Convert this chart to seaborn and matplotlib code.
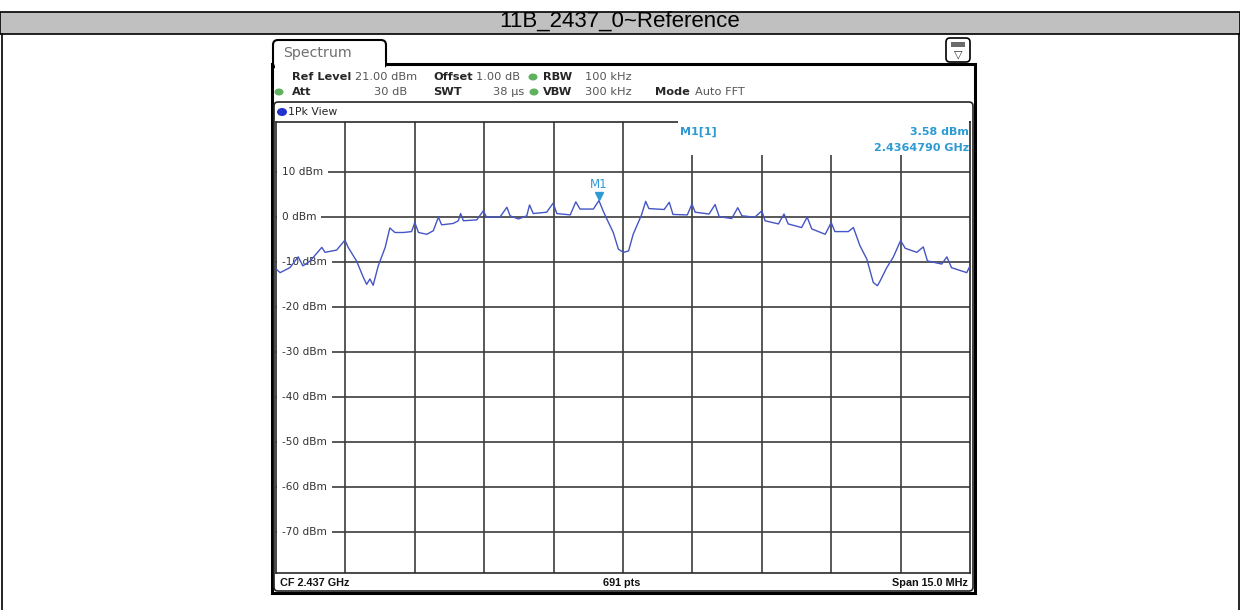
import matplotlib
matplotlib.use("Agg")
import matplotlib.pyplot as plt
import seaborn as sns
import pandas as pd
from matplotlib.patches import Rectangle, FancyBboxPatch, Ellipse
from matplotlib.lines import Line2D
from matplotlib.transforms import Affine2D, ScaledTranslation, blended_transform_factory

# trace (MHz, dBm)
freq_mhz = [2429.50, 2429.59, 2429.80, 2429.98, 2430.08, 2430.24, 2430.49, 2430.56, 2430.81, 2430.99,
            2431.06, 2431.24, 2431.39, 2431.46, 2431.53, 2431.60, 2431.71, 2431.86, 2431.96, 2432.07,
            2432.25, 2432.43, 2432.50, 2432.58, 2432.76, 2432.90, 2433.01, 2433.08, 2433.33, 2433.44,
            2433.49, 2433.55, 2433.84, 2433.98, 2434.05, 2434.34, 2434.49, 2434.56, 2434.74, 2434.92,
            2434.98, 2435.06, 2435.35, 2435.49, 2435.57, 2435.86, 2435.98, 2436.07, 2436.36, 2436.48,
            2436.57, 2436.65, 2436.79, 2436.90, 2437.01, 2437.12, 2437.22, 2437.40, 2437.49, 2437.56,
            2437.89, 2438.00, 2438.08, 2438.39, 2438.49, 2438.56, 2438.86, 2438.99, 2439.08, 2439.35,
            2439.48, 2439.57, 2439.85, 2440.00, 2440.07, 2440.36, 2440.48, 2440.57, 2440.86, 2440.98,
            2441.08, 2441.37, 2441.50, 2441.58, 2441.87, 2441.98, 2442.12, 2442.27, 2442.41, 2442.50,
            2442.56, 2442.70, 2442.84, 2443.00, 2443.10, 2443.35, 2443.49, 2443.58, 2443.89, 2444.00,
            2444.10, 2444.43, 2444.50]
level_dbm = [-11.6, -12.4, -11.3, -8.9, -10.9, -9.8, -6.8, -7.9, -7.4, -5.2,
             -6.8, -9.8, -13.5, -15.0, -13.8, -15.2, -10.9, -6.8, -2.5, -3.5,
             -3.5, -3.3, -1.3, -3.5, -3.9, -3.1, -0.1, -1.8, -1.5, -0.9,
             0.7, -0.9, -0.7, 1.3, -0.1, -0.1, 2.1, 0.2, -0.5, 0.2,
             2.6, 0.7, 1.0, 3.0, 0.7, 0.4, 3.3, 1.7, 1.7, 3.58,
             1.3, -0.5, -3.5, -7.2, -7.9, -7.6, -3.9, 0.4, 3.4, 1.8,
             1.6, 3.2, 0.5, 0.4, 2.8, 1.0, 0.6, 2.7, 0.0, -0.4,
             2.0, 0.2, -0.1, 1.3, -0.9, -1.6, 0.6, -1.6, -2.4, -0.1,
             -2.7, -3.9, -1.3, -3.3, -3.3, -2.4, -6.4, -9.4, -14.6, -15.3,
             -14.2, -11.3, -9.0, -5.3, -7.0, -7.9, -6.7, -9.8, -10.5, -8.9,
             -11.3, -12.4, -10.9]

marker_freq = 2436.479
marker_level = 3.58
center_mhz = 2437.0
span_mhz = 15.0
ref_level = 21.0
y_labels = [10, 0, -10, -20, -30, -40, -50, -60, -70]

W, H = 1240, 610
TRACE = "#4455c4"
CYAN = "#2d9ad4"
GRID = "#3c3c3c"
GREEN = "#5fb05f"

sns.set_style("white")
plt.rcParams["font.family"] = ["DejaVu Sans"]

fig = plt.figure(figsize=(W / 100, H / 100), dpi=100)
fig.patch.set_facecolor("white")
# pixel coords, y measured from the top
T = Affine2D().scale(1 / W, -1 / H).translate(0, 1) + fig.transFigure


def ftext(x, y, s, **kw):
    kw.setdefault("fontsize", 8.2)
    kw.setdefault("va", "center")
    return fig.text(x, y, s, transform=T, **kw)


def dot(x, y, c=GREEN, r=3.5):
    fig.add_artist(Ellipse((x, y), 2 * r + 2, 2 * r, transform=T, fc=c, ec="none", zorder=3))


# table header + borders
fig.add_artist(Rectangle((0, 12), W, 22, transform=T, fc="#c0c0c0", ec="black", lw=1.2, zorder=1))
ftext(620, 21.5, "11B_2437_0~Reference", ha="center", fontsize=16, family="Liberation Sans",
      color="black")
for xb in (1.5, 1238.5):
    fig.add_artist(Line2D([xb, xb], [34, 610], transform=T, color="black", lw=1.2))

# analyzer window
fig.add_artist(Rectangle((272, 64), 703, 529, transform=T, fc="white", ec="black", lw=2.2, zorder=-1))
fig.add_artist(FancyBboxPatch((273, 40), 113, 28, boxstyle="round,pad=0,rounding_size=5",
                              transform=T, fc="white", ec="black", lw=1.5, zorder=1))
fig.add_artist(Rectangle((274.5, 62), 110, 8, transform=T, fc="white", ec="none", zorder=1.5))
ftext(283, 53, "Spectrum", fontsize=10.2, color="#707070")

# small icon top right
fig.add_artist(FancyBboxPatch((946, 38), 24, 24, boxstyle="round,pad=0,rounding_size=4",
                              transform=T, fc="white", ec="black", lw=1.2, zorder=1))
fig.add_artist(Rectangle((951, 42), 14, 5, transform=T, fc="#6a6a6a", ec="none", zorder=2))
ftext(958, 54, "▽", ha="center", fontsize=8, color="#333333")

# setting rows
ftext(292, 77, "Ref Level", weight="bold")
ftext(355, 77, "21.00 dBm", color="#555555")
ftext(433, 77, "Offset", weight="bold")
ftext(476, 77, "1.00 dB", color="#555555")
dot(533, 77)
ftext(543, 77, "RBW", weight="bold")
ftext(585, 77, "100 kHz", color="#555555")

dot(279, 92)
ftext(292, 92, "Att", weight="bold")
ftext(407, 92, "30 dB", color="#555555", ha="right")
ftext(433, 92, "SWT", weight="bold")
ftext(493, 92, "38 µs", color="#555555")
dot(534, 92)
ftext(543, 92, "VBW", weight="bold")
ftext(585, 92, "300 kHz", color="#555555")
ftext(655, 92, "Mode", weight="bold")
ftext(695, 92, "Auto FFT", color="#555555")

# trace window frame
fig.add_artist(FancyBboxPatch((274, 102), 699, 489, boxstyle="round,pad=0,rounding_size=4",
                              transform=T, fc="none", ec="#222222", lw=1.2, zorder=2))
dot(282, 112, c="#2233cc", r=4)
ftext(288, 112, "1Pk View", fontsize=7.8)

# plot area
ax = fig.add_axes([276 / W, (H - 573) / H, 694 / W, 451 / H])
df = pd.DataFrame({"freq": freq_mhz, "level": level_dbm})
sns.lineplot(data=df, x="freq", y="level", ax=ax, color=TRACE, lw=1.0,
             estimator=None, sort=True, zorder=4)

lo = center_mhz - span_mhz / 2
hi = center_mhz + span_mhz / 2
ax.set_xlim(lo, hi)
ax.set_ylim(ref_level - 100, ref_level)
ax.set_xticks([lo + i * span_mhz / 10 for i in range(1, 10)])
ax.set_yticks(y_labels)
ax.grid(True, color=GRID, lw=1.2)
ax.set_axisbelow(True)
ax.tick_params(length=0, labelbottom=False, labelleft=False)
ax.set_xlabel("")
ax.set_ylabel("")
for s in ax.spines.values():
    s.set_color("#2a2a2a")
    s.set_linewidth(1.2)

# y labels drawn inside the grid
lab_tr = blended_transform_factory(ax.transAxes, ax.transData)
for v in y_labels:
    ax.text(0.0085, v, f"{v} dBm", transform=lab_tr, fontsize=7.6, color="#333333",
            va="center", ha="left", zorder=3,
            bbox=dict(fc="white", ec="none", pad=3.5))

# marker readout box (covers the grid and top edge under the readout)
box_db = 33 / 4.5
ax.add_patch(Rectangle((lo + span_mhz * 402 / 694, ref_level - box_db),
                       span_mhz * (694 - 402 - 1.5) / 694, box_db + 0.35,
                       fc="white", ec="none", zorder=2.6, clip_on=False))
ftext(680, 132, "M1[1]", color=CYAN, weight="bold", fontsize=8)
ftext(969, 132, f"{marker_level:.2f} dBm", color=CYAN, weight="bold", fontsize=8, ha="right")
ftext(969, 148, f"{marker_freq / 1000:.7f} GHz", color=CYAN, weight="bold", fontsize=8, ha="right")

tri_tr = ax.transData + ScaledTranslation(0, 3.5 / 72, fig.dpi_scale_trans)
ax.plot([marker_freq], [marker_level], marker="v", ms=6, color=CYAN, transform=tri_tr,
        zorder=5, ls="none")
ax.annotate("M1", xy=(marker_freq, marker_level), xytext=(0, 7), textcoords="offset points",
            ha="center", va="bottom", color=CYAN, fontsize=8.5)

# footer
foot = dict(weight="bold", fontsize=7.8, family="Liberation Sans", color="#111111")
ftext(280, 583, f"CF {center_mhz / 1000:.3f} GHz", **foot)
ftext(622, 583, "691 pts", ha="center", **foot)
ftext(968, 583, f"Span {span_mhz:.1f} MHz", ha="right", **foot)

fig.savefig("out.png", dpi=100)
